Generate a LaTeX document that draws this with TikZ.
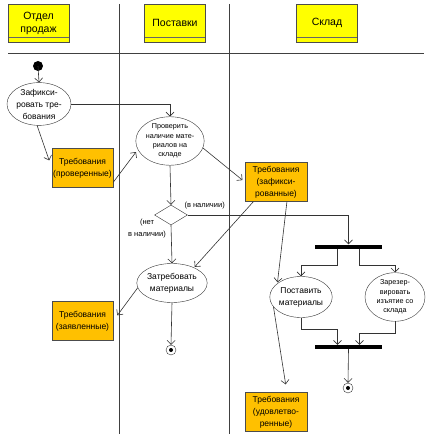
\documentclass[tikz,border=0pt]{standalone}
\usepackage{fontspec}
\setmainfont{Liberation Sans}
\usepackage{xcolor}
\usepackage{tikz}
\usetikzlibrary{arrows.meta,shapes.geometric}
\definecolor{hdryellow}{HTML}{FFFF00}
\definecolor{objorange}{HTML}{FFC000}
\tikzset{
hdr/.style = {rectangle, draw=black!70, fill=hdryellow, minimum width=61pt, minimum height=38pt, inner sep=1pt, align=center, font=\fontsize{10.5}{13}\selectfont,
  path picture={\draw[black!60] ([yshift=5pt]path picture bounding box.south west) -- ([yshift=5pt]path picture bounding box.south east);}},
obj/.style = {rectangle, draw=black!70, fill=objorange, minimum width=62pt, minimum height=39pt, inner sep=1pt, align=center, font=\fontsize{8.5}{12}\selectfont},
act/.style = {ellipse, draw=black!80, minimum width=#1, minimum height=39pt, inner sep=0pt, align=center, font=\fontsize{8.5}{12}\selectfont},
act/.default = 60pt, % width of the activity oval
actsmall/.style = {act=#1, font=\fontsize{7.2}{9.3}\selectfont},
actsmall/.default = 60pt,
dec/.style = {diamond, draw=black!80, minimum width=33pt, minimum height=20pt, inner sep=0pt, aspect=1.6},
bar/.style = {rectangle, fill=black, minimum width=67pt, minimum height=4pt, inner sep=0pt},
lbl/.style = {align=center, font=\fontsize{7.5}{12}\selectfont},
flow/.style = {draw=black!80, line width=0.6pt, -{Straight Barb[length=4pt,width=8pt]}},
lane/.style = {draw=black!75, line width=0.6pt},
}

\begin{document}
\begin{tikzpicture}[x=1pt,y=-1pt]

    \useasboundingbox (0,0) rectangle (432,438);

    % swim lanes
    \node[hdr] (hdrSales) at (38.5,23) {Отдел\\продаж};
    \node[hdr] (hdrSupply) at (175,23) {Поставки};
    \node[hdr] (hdrStore) at (327,23) {Склад};
    \draw[lane] (8,53) -- (424,53);
    \draw[lane] (119,4) -- (119,434);
    \draw[lane] (229,4) -- (229,434);

    % activities
    \fill[black] (38,66) circle (5pt) coordinate (start);
    \node[act=58pt, minimum height=38pt] (actFix) at (39,104) {Зафикси-\\ровать тре-\\бования};
    \node[actsmall] (actCheck) at (170,141) {Проверить\\наличие мате-\\риалов на\\складе};
    \node[dec] (decAvail) at (171,215) {};
    \node[act] (actRequest) at (172,283) {Затребовать\\материалы};
    \node[bar] (forkTop) at (348.5,246.5) {};
    \node[act=62pt, minimum height=41pt] (actDeliver) at (301,297) {Поставить\\материалы};
    \node[actsmall=60pt, minimum height=41pt] (actReserve) at (395,297) {Зарезер-\\вировать\\изъятие со\\склада};
    \node[bar] (joinBot) at (348.5,347) {};

    % final states
    \node[circle, draw=black!80, minimum size=10pt, inner sep=0pt] (endA) at (171,350) {};
    \fill[black] (endA) circle (2pt);
    \node[circle, draw=black!80, minimum size=10pt, inner sep=0pt] (endB) at (348,388) {};
    \fill[black] (endB) circle (2pt);

    % objects
    \node[obj, minimum width=61pt] (objChecked) at (82.5,168) {Требования\\(проверенные)};
    \node[obj] (objFixed) at (276,182) {Требования\\(зафикси-\\рованные)};
    \node[obj, minimum width=61pt] (objClaimed) at (82.5,321) {Требования\\(заявленные)};
    \node[obj] (objDone) at (276,412) {Требования\\(удовлетво-\\ренные)};

    % guards
    \node[lbl, anchor=west] (lblYes) at (181,206) {(в наличии)};
    \node[lbl] (lblNo) at (147,229) {(нет\\в наличии)};

    \draw[flow] (start) -- (actFix.north);
    \draw[flow] (actFix.east) -| (actCheck.north);
    \draw[flow, shorten >=8pt] (actFix.265) -- (objChecked.west);
    \draw[flow, shorten >=3pt] (objChecked.-25) -- (actCheck.195);
    \draw[flow, shorten >=3pt] (actCheck.-12) -- (objFixed.west);
    \draw[flow] (actCheck.south) -- (decAvail.north);
    \draw[flow] (decAvail.east) -| (forkTop.north);
    \draw[flow] (decAvail.south) -- (actRequest.north);
    \draw[flow, shorten >=1pt] (objFixed.221) -- (actRequest.35);
    \draw[flow, shorten >=1pt] (objFixed.-61) -- (actDeliver.150);
    \draw[flow, shorten >=7pt] (actRequest.188) -- (objClaimed.east);
    \draw[flow] (actRequest.south) -- (endA.north);
    \draw[flow] ([xshift=-11pt]forkTop.south) -- ++(0,17) -| (actDeliver.north);
    \draw[flow] ([xshift=11pt]forkTop.south) -- ++(0,17) -| (actReserve.north);
    \draw[flow] (actDeliver.south) -- ++(0,12) -| ([xshift=-11pt]joinBot.north);
    \draw[flow] (actReserve.south) -- ++(0,12) -| ([xshift=11pt]joinBot.north);
    \draw[flow] (joinBot.south) -- (endB.north);
    \draw[flow, shorten >=8pt] (actDeliver.200) -- (objDone.61);

\end{tikzpicture}
\end{document}
